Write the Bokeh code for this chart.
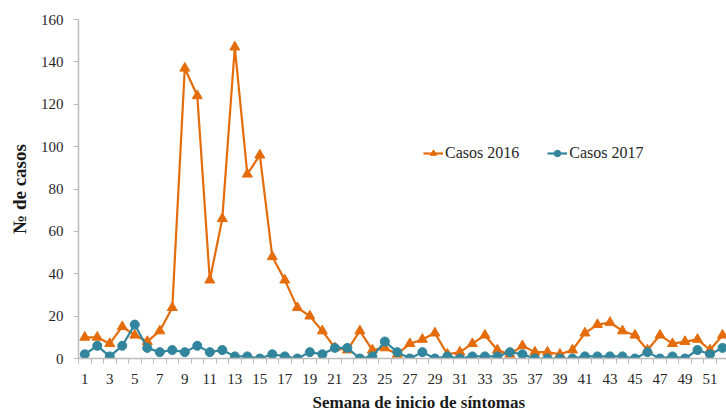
from bokeh.plotting import figure
from bokeh.models import Range1d, FixedTicker, Legend, LegendItem, Title
from bokeh.embed import file_html
from bokeh.resources import INLINE

# ---- data ----
weeks = list(range(1, 53))
cases_2016 = [10, 10, 7, 15, 11, 8, 13, 24, 137, 124, 37, 66, 147, 87, 96, 48, 37, 24, 20, 13,
              5, 4, 13, 4, 5, 2, 7, 9, 12, 2, 3, 7, 11, 4, 2, 6, 3, 3, 2, 4,
              12, 16, 17, 13, 11, 4, 11, 7, 8, 9, 4, 11]
cases_2017 = [2, 6, 1, 6, 16, 5, 3, 4, 3, 6, 3, 4, 1, 1, 0, 2, 1, 0, 3, 2,
              5, 5, 0, 1, 8, 3, 0, 3, 0, 1, 0, 1, 1, 1, 3, 2, 0, 0, 0, 0,
              1, 1, 1, 1, 0, 3, 0, 1, 0, 4, 2, 5]
y_ticks = [0, 20, 40, 60, 80, 100, 120, 140, 160]
x_labels = {w: (str(w) if w % 2 == 1 else "") for w in weeks}
series_labels = ["Casos 2016", "Casos 2017"]
x_title = "Semana de inicio de síntomas"
y_title = "№ de casos"

ORANGE = "#E46C0A"
TEAL = "#31859C"
AXIS = "#BBBBBB"
TEXT = "#262626"
FONT = "Liberation Serif"

p = figure(width=726, height=415, x_range=Range1d(0.5, 52.32), y_range=Range1d(0, 160),
           output_backend="svg", toolbar_location=None,
           min_border_left=78, min_border_right=0, min_border_top=19, min_border_bottom=57)
p.outline_line_color = None
p.xgrid.visible = False
p.ygrid.visible = False
p.background_fill_color = "white"
p.border_fill_color = "white"

r1 = p.line(weeks, cases_2016, line_color=ORANGE, line_width=2.2)
s1 = p.scatter(weeks, cases_2016, marker="triangle", size=10, fill_color=ORANGE, line_color=ORANGE)
r2 = p.line(weeks, cases_2017, line_color=TEAL, line_width=2.2)
s2 = p.scatter(weeks, cases_2017, marker="circle", size=9, fill_color=TEAL, line_color=TEAL)

# x axis
xa = p.xaxis[0]
xa.ticker = FixedTicker(ticks=weeks, minor_ticks=[w - 0.5 for w in weeks] + [weeks[-1] + 0.5])
xa.major_label_overrides = x_labels
xa.major_tick_out = 0
xa.major_tick_in = 0
xa.minor_tick_out = 5
xa.minor_tick_in = 0
xa.minor_tick_line_color = AXIS
xa.axis_line_color = AXIS
xa.axis_line_width = 1.5
xa.major_label_standoff = 10
xa.major_label_text_font = FONT
xa.major_label_text_font_size = "15px"
xa.major_label_text_color = TEXT

# y axis
ya = p.yaxis[0]
ya.ticker = FixedTicker(ticks=y_ticks)
ya.minor_tick_line_color = None
ya.major_tick_out = 5
ya.major_tick_in = 0
ya.major_tick_line_color = AXIS
ya.axis_line_color = AXIS
ya.axis_line_width = 1.5
ya.major_label_standoff = 10
ya.major_label_text_font = FONT
ya.major_label_text_font_size = "15px"
ya.major_label_text_color = TEXT
ya.axis_label = y_title
ya.axis_label_text_font = FONT
ya.axis_label_text_font_style = "bold"
ya.axis_label_text_font_size = "19px"
ya.axis_label_text_color = "#1a1a1a"
ya.axis_label_standoff = 8

p.add_layout(Title(text=x_title, align="left", offset=234, standoff=8,
                   text_font=FONT, text_font_style="bold", text_font_size="17px",
                   text_color="#1a1a1a"), "below")

legend = Legend(items=[LegendItem(label=series_labels[0], renderers=[r1, s1]),
                       LegendItem(label=series_labels[1], renderers=[r2, s2])],
                orientation="horizontal", location=(345, 196), padding=0, margin=0,
                spacing=28, glyph_width=20, glyph_height=16, label_height=16,
                label_standoff=2, border_line_color=None, background_fill_alpha=0,
                label_text_font=FONT, label_text_font_size="16px", label_text_color=TEXT)
p.add_layout(legend)

open("out.html", "w").write(file_html(p, INLINE))
